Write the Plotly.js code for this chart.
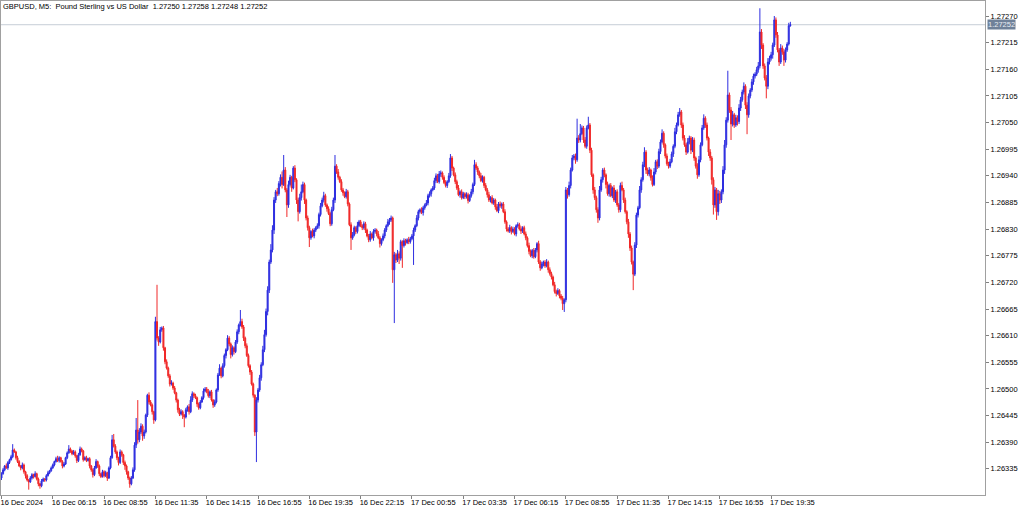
<!DOCTYPE html>
<html>
<head>
<meta charset="utf-8">
<script src="https://cdn.plot.ly/plotly-3.0.1.min.js"></script>
<style>
  html, body { margin: 0; padding: 0; background: #ffffff; }
  #chart { width: 1024px; height: 509px; }
</style>
</head>
<body>
<div id="chart"></div>
<script>
// ---- Data (GBPUSD M5). Prices are stored in points (0.00001) above PRICE_BASE ----
const symbolTitle = 'GBPUSD, M5:  Pound Sterling vs US Dollar  1.27250 1.27258 1.27248 1.27252';
const PRICE_BASE = 1.26;
const POINT = 0.00001;
const BARS_PER_TICK = 32;

const xTickLabels = ['16 Dec 2024', '16 Dec 06:15', '16 Dec 08:55', '16 Dec 11:35', '16 Dec 14:15',
  '16 Dec 16:55', '16 Dec 19:35', '16 Dec 22:15', '17 Dec 00:55', '17 Dec 03:35', '17 Dec 06:15',
  '17 Dec 08:55', '17 Dec 11:35', '17 Dec 14:15', '17 Dec 16:55', '17 Dec 19:35'];

const yTickValues = [1.26335, 1.26390, 1.26445, 1.26500, 1.26555, 1.26610, 1.26665, 1.26720, 1.26775,
  1.26830, 1.26885, 1.26940, 1.26995, 1.27050, 1.27105, 1.27160, 1.27215, 1.27270];

const firstOpenPts = 316;

const closePts = [
  325,333,341,337,348,354,360,374,370,358,350,341,337,343,329,321,312,308,316,323,319,325,314,304,300,310,314,312,321,327,331,337,
  343,350,356,352,358,350,341,345,358,368,376,372,366,370,362,352,364,376,372,354,358,352,356,341,333,323,337,350,341,325,319,329,
  321,327,316,337,358,395,382,370,358,348,370,364,348,341,329,316,304,316,333,384,415,395,411,423,403,411,446,487,473,467,453,436,
  639,605,597,622,626,585,556,543,527,510,512,502,492,477,457,448,453,446,442,457,463,453,477,490,486,482,469,461,473,482,496,500,
  494,486,494,477,467,473,498,529,543,527,548,569,581,605,593,571,585,577,597,618,632,639,628,605,589,569,548,535,510,487,411,477,
  498,523,550,581,612,660,704,762,787,828,890,907,903,924,937,922,952,911,880,922,937,915,956,932,890,866,895,907,922,890,853,833,
  812,825,816,828,833,837,860,878,890,899,880,872,862,841,870,890,960,948,937,928,911,905,897,907,882,839,812,818,833,825,837,845,
  837,833,841,828,816,808,820,812,825,828,820,812,800,808,816,828,837,845,849,853,746,777,766,779,770,804,796,806,802,808,804,810,
  816,828,837,853,866,870,864,874,880,884,899,903,911,915,930,940,928,944,946,937,926,920,928,940,977,956,942,928,915,901,907,895,
  903,897,901,889,899,907,922,963,956,948,940,930,937,920,911,901,890,895,884,890,876,868,882,878,882,866,845,830,826,833,825,830,
  820,837,839,830,826,833,820,812,796,784,775,786,773,787,800,762,750,758,762,754,762,746,738,731,715,701,697,703,692,687,676,684,
  911,901,920,952,977,981,973,1018,1014,1027,1039,1014,1001,1039,1045,993,942,911,895,870,853,911,932,952,942,922,903,920,899,915,890,907,
  880,870,920,911,890,866,845,820,791,762,737,797,859,874,911,932,963,989,952,944,952,936,922,948,969,960,990,1010,1028,1004,981,965,
  960,969,985,1001,1031,1045,1066,1072,1045,1018,1004,989,1010,1018,993,1014,977,960,942,973,1004,1039,1059,1045,1018,989,977,932,880,911,866,903,
  890,907,952,1004,1055,1107,1076,1047,1066,1045,1060,1052,1080,1097,1113,1125,1086,1066,1105,1117,1134,1146,1150,1159,1167,1237,1210,1167,1142,1125,1175,1183,
  1190,1210,1262,1231,1200,1175,1204,1196,1179,1200,1212,1250,1252
];

const wickUpPts = [
  3,4,2,5,3,2,4,12,3,2,4,3,2,5,3,2,3,2,4,3,2,5,2,3,2,4,3,2,3,4,2,3,
  3,2,4,6,3,2,3,4,2,3,8,3,2,4,3,2,4,5,3,2,3,4,2,3,2,3,4,5,2,3,2,4,
  3,4,2,3,4,10,12,4,3,2,5,3,2,4,3,2,3,4,5,6,25,62,8,6,4,5,3,3,6,4,3,2,
  10,76,4,6,3,4,2,5,3,4,6,3,4,2,3,4,5,3,2,4,3,6,8,5,3,4,2,3,4,3,5,4,
  4,6,3,4,2,5,3,4,8,3,5,4,3,6,4,3,5,3,4,5,3,24,6,4,3,5,4,3,4,3,2,6,
  4,6,5,8,10,6,8,5,12,10,6,4,8,5,6,12,31,6,4,8,5,3,4,6,3,5,8,15,6,4,3,5,
  4,3,6,4,3,5,4,6,5,8,4,3,5,4,6,5,23,4,6,3,5,4,3,6,4,3,5,6,4,3,8,4,
  4,3,5,4,3,4,6,3,5,4,3,6,4,3,5,4,3,6,4,5,3,6,4,8,5,4,3,5,4,3,6,4,
  4,5,3,6,4,3,5,4,3,6,4,5,3,4,6,5,4,6,5,3,4,5,3,6,8,4,3,5,4,6,3,5,
  4,3,5,4,3,6,4,10,5,4,3,6,4,3,5,4,6,3,5,4,3,6,4,5,3,4,5,3,4,6,3,5,
  4,3,5,4,6,3,4,5,3,6,4,3,5,4,3,6,4,5,3,4,6,3,5,4,3,6,4,5,3,4,5,3,
  6,4,8,5,6,4,5,40,6,20,5,4,6,5,17,4,5,3,6,4,5,8,6,4,5,3,6,4,5,3,6,4,
  5,4,6,8,4,5,3,6,4,5,3,6,5,4,8,5,6,10,4,5,6,3,5,8,4,5,6,5,8,4,3,5,
  4,6,5,4,8,5,6,8,4,5,6,4,8,5,4,6,5,3,6,8,5,6,8,4,5,3,6,4,5,6,4,8,
  6,5,8,10,6,50,5,6,8,4,6,5,8,6,5,8,4,6,5,4,6,5,4,6,8,49,6,4,5,6,8,5,
  6,5,8,5,6,4,8,5,6,5,4,6,6
];

const wickDnPts = [
  4,2,3,2,4,3,2,3,2,4,3,2,5,3,4,6,3,16,2,3,4,2,3,5,6,3,2,4,3,2,3,2,
  2,3,2,3,4,2,5,3,2,3,2,4,3,2,4,5,3,2,3,4,2,3,2,5,4,6,3,2,4,5,3,2,
  4,3,6,2,3,2,3,4,5,6,3,4,5,8,6,4,8,3,2,4,6,8,5,4,10,6,3,4,5,3,6,8,
  3,5,8,3,4,6,5,3,4,5,3,4,3,5,6,4,3,8,21,3,4,6,3,4,5,3,6,4,3,2,4,3,
  3,4,5,3,6,4,3,4,2,5,3,4,6,3,5,8,4,6,3,4,5,3,4,6,5,3,4,6,3,5,8,62,
  5,4,6,3,5,4,8,6,4,5,8,6,5,4,6,8,3,5,25,6,4,8,3,5,8,20,4,6,3,8,5,6,
  19,4,3,5,4,3,6,4,3,5,4,6,3,5,4,3,6,4,5,3,4,6,3,4,5,3,25,4,3,5,4,3,
  3,5,4,6,3,5,4,3,6,4,5,3,8,4,3,5,4,3,6,4,27,110,6,4,12,5,46,4,6,3,5,4,
  3,60,4,3,5,4,3,6,4,3,5,4,6,3,4,5,3,4,6,5,3,4,5,3,4,6,3,5,4,3,6,4,
  3,5,4,6,3,4,5,3,4,6,5,3,4,5,3,6,4,5,3,4,6,3,5,4,6,3,4,5,3,4,6,3,
  3,5,4,3,6,4,3,5,4,6,3,5,4,3,5,4,6,3,5,4,3,6,4,5,3,4,6,3,5,4,13,17,
  5,8,4,6,3,5,8,4,6,5,3,6,4,5,3,6,4,8,5,6,10,5,4,6,5,8,4,6,3,5,4,6,
  4,6,5,3,6,4,5,8,6,5,33,4,6,5,3,6,4,5,8,4,5,6,4,3,5,6,4,5,3,6,5,4,
  5,4,3,6,4,5,3,4,6,5,4,6,3,5,8,4,6,5,8,4,5,3,4,6,5,8,6,10,20,6,17,8,
  8,6,5,8,6,5,6,33,5,6,4,8,5,6,4,5,8,40,6,5,4,6,5,4,6,5,8,6,5,25,6,5,
  5,8,4,6,5,8,4,6,12,5,4,3,2
];

// ---- Build the OHLC table from the arrays ----
const toPrice = p => +(PRICE_BASE + p * POINT).toFixed(5);
const closeP = closePts.map(toPrice);
const openP = closePts.map((_, i) => i === 0 ? toPrice(firstOpenPts) : closeP[i - 1]);
const highP = closePts.map((c, i) => toPrice(Math.max(c, i === 0 ? firstOpenPts : closePts[i - 1]) + wickUpPts[i]));
const lowP = closePts.map((c, i) => toPrice(Math.min(c, i === 0 ? firstOpenPts : closePts[i - 1]) - wickDnPts[i]));
const barIndex = closePts.map((_, i) => i);
const lastClose = closeP[closeP.length - 1];

const FONT = 'Liberation Sans, Arial, sans-serif';

const trace = {
  type: 'candlestick',
  x: barIndex,
  open: openP, high: highP, low: lowP, close: closeP,
  increasing: { line: { color: '#2e2ee0', width: 1 }, fillcolor: '#2e2ee0' },
  decreasing: { line: { color: '#f02828', width: 1 }, fillcolor: '#f02828' },
  whiskerwidth: 0,
  hoverinfo: 'skip',
  showlegend: false
};

const layout = {
  width: 1024, height: 509,
  margin: { l: 1, r: 39, t: 1, b: 14 },
  paper_bgcolor: '#ffffff', plot_bgcolor: '#ffffff',
  showlegend: false,
  boxgap: 0.1,
  title: {
    text: symbolTitle,
    xref: 'container', yref: 'container',
    x: 3 / 1024, xanchor: 'left',
    y: 1 - 6 / 509, yanchor: 'middle',
    pad: { l: 0, r: 0, t: 0, b: 0 },
    font: { family: FONT, size: 7.5, color: '#000000' }
  },
  xaxis: {
    range: [-0.3, 613.4],
    tickvals: xTickLabels.map((_, k) => k * BARS_PER_TICK),
    ticktext: xTickLabels,
    tickangle: 0,
    ticks: 'outside', ticklen: 3, tickcolor: '#808080', tickwidth: 1,
    ticklabelposition: 'outside right',
    ticklabelshift: -2,
    tickfont: { family: FONT, size: 7.5, color: '#000000' },
    showline: true, linecolor: '#a0a0a0', linewidth: 1, mirror: true,
    showgrid: false, zeroline: false,
    automargin: false,
    rangeslider: { visible: false },
    fixedrange: true
  },
  yaxis: {
    side: 'right',
    range: [1.26281, 1.27301],
    tickvals: yTickValues,
    tickformat: '.5f',
    ticks: 'outside', ticklen: 3, tickcolor: '#808080', tickwidth: 1,
    tickfont: { family: FONT, size: 7.5, color: '#000000' },
    showline: true, linecolor: '#a0a0a0', linewidth: 1, mirror: true,
    showgrid: false, zeroline: false,
    automargin: false,
    fixedrange: true
  },
  shapes: [{
    type: 'line', xref: 'paper', x0: 0, x1: 1, yref: 'y', y0: lastClose, y1: lastClose,
    line: { color: '#c6cdd6', width: 1 }, layer: 'below'
  }],
  annotations: [{
    xref: 'paper', x: 1, xanchor: 'left', xshift: 2,
    yref: 'y', y: lastClose, yanchor: 'middle',
    text: lastClose.toFixed(5), showarrow: false,
    bgcolor: '#6f8199', borderpad: 0,
    font: { family: FONT, size: 7.5, color: '#e8ecf2' }
  }]
};

Plotly.newPlot('chart', [trace], layout, { staticPlot: true, displayModeBar: false });
</script>
</body>
</html>
